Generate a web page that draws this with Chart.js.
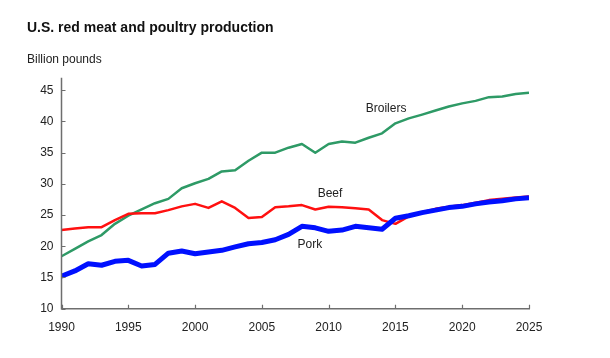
<!DOCTYPE html>
<html>
<head>
<meta charset="utf-8">
<script src="https://cdn.jsdelivr.net/npm/chart.js@4/dist/chart.umd.min.js"></script>
<style>
  html, body { margin: 0; padding: 0; background: #fff; }
  #wrap { width: 610px; height: 358px; position: relative; }
</style>
</head>
<body>
<div id="wrap"><canvas id="c" width="610" height="358"></canvas></div>
<script>
const years = [1990,1991,1992,1993,1994,1995,1996,1997,1998,1999,2000,2001,2002,2003,2004,2005,2006,2007,2008,2009,2010,2011,2012,2013,2014,2015,2016,2017,2018,2019,2020,2021,2022,2023,2024,2025];
const broilers = [18.4,19.6,20.8,21.8,23.6,24.9,25.9,26.9,27.6,29.3,30.1,30.8,32.0,32.2,33.7,35.0,35.0,35.8,36.4,35.0,36.4,36.8,36.6,37.4,38.1,39.7,40.5,41.1,41.75,42.4,42.9,43.3,43.9,44.0,44.4,44.6];
const beef = [22.6,22.85,23.06,23.06,24.2,25.2,25.3,25.3,25.8,26.4,26.8,26.15,27.2,26.15,24.55,24.7,26.25,26.4,26.6,25.9,26.35,26.25,26.1,25.9,24.2,23.6,24.8,25.45,26.0,26.35,26.6,27.0,27.4,27.6,27.8,28.0];
const pork = [15.2,16.05,17.2,16.96,17.6,17.75,16.85,17.1,18.9,19.24,18.8,19.1,19.35,19.9,20.4,20.6,21.05,21.9,23.2,22.96,22.4,22.6,23.2,22.96,22.74,24.5,24.9,25.4,25.8,26.2,26.4,26.8,27.1,27.3,27.6,27.8];
const yTicks = [10,15,20,25,30,35,40,45];
const xTicks = [1990,1995,2000,2005,2010,2015,2020,2025];
const seriesNames = ['Pork','Beef','Broilers'];
const titleText = 'U.S. red meat and poultry production';
const unitText = 'Billion pounds';

const FONT = '"Liberation Sans", Arial, Helvetica, sans-serif';
Chart.defaults.font.family = FONT;

const toPts = arr => arr.map((v, i) => ({x: years[i], y: v}));

// in-chart series labels (anchored in data coordinates)
const seriesLabels = [
  {text: 'Broilers', x: 2014.3, y: 42.0},
  {text: 'Beef', x: 2010.1, y: 28.4},
  {text: 'Pork', x: 2008.6, y: 20.3}
];

const innerTicks = {
  id: 'innerTicks',
  afterDraw(chart) {
    const {ctx, chartArea: a, scales: {x, y}} = chart;
    ctx.save();
    ctx.strokeStyle = '#6e6e6e';
    ctx.lineWidth = 1.5;
    ctx.beginPath();
    ctx.moveTo(a.left, a.top);
    ctx.lineTo(a.left, a.bottom);
    ctx.lineTo(a.right + 1, a.bottom);
    ctx.stroke();
    ctx.lineWidth = 1.2;
    ctx.beginPath();
    y.ticks.forEach(t => {
      const py = Math.round(y.getPixelForValue(t.value)) + 0.5;
      ctx.moveTo(a.left, py); ctx.lineTo(a.left + 4, py);
    });
    x.ticks.forEach(t => {
      const px = Math.round(x.getPixelForValue(t.value)) + 0.5;
      ctx.moveTo(px, a.bottom); ctx.lineTo(px, a.bottom - 4);
    });
    ctx.stroke();
    ctx.restore();
  },
  afterDatasetsDraw(chart) {
    const {ctx, scales: {x, y}} = chart;
    ctx.save();
    ctx.font = '12px ' + FONT;
    ctx.fillStyle = '#222';
    ctx.textAlign = 'center';
    ctx.textBaseline = 'middle';
    seriesLabels.forEach(l => {
      ctx.fillText(l.text, x.getPixelForValue(l.x), y.getPixelForValue(l.y));
    });
    ctx.restore();
  }
};

new Chart(document.getElementById('c'), {
  type: 'line',
  data: {
    datasets: [
      {label: seriesNames[0], data: toPts(pork), borderColor: '#0010ff', borderWidth: 5, order: 0},
      {label: seriesNames[1], data: toPts(beef), borderColor: '#ff1010', borderWidth: 2.5, order: 1},
      {label: seriesNames[2], data: toPts(broilers), borderColor: '#2e9a66', borderWidth: 2.5, order: 2}
    ]
  },
  options: {
    responsive: false,
    animation: false,
    devicePixelRatio: 1,
    layout: {padding: {left: 27, right: 81, top: 0, bottom: 0}},
    elements: {
      point: {radius: 0, hoverRadius: 0},
      line: {tension: 0, borderJoinStyle: 'round', borderCapStyle: 'butt'}
    },
    plugins: {
      legend: {display: false},
      tooltip: {enabled: false},
      title: {
        display: true, text: titleText, align: 'start', color: '#111',
        font: {size: 14, weight: 'bold', lineHeight: 1.2},
        padding: {top: 20, bottom: 0}
      },
      subtitle: {
        display: true, text: unitText, align: 'start', color: '#222',
        font: {size: 12, lineHeight: 1.2},
        padding: {top: 15.3, bottom: 11.3}
      }
    },
    scales: {
      x: {
        type: 'linear', min: 1990, max: 2025,
        afterFit(s) { s.height = 49.3; },
        afterBuildTicks(s) { s.ticks = xTicks.map(v => ({value: v})); },
        grid: {display: false, drawTicks: false},
        border: {display: false},
        ticks: {color: '#222', font: {size: 12}, padding: 12, maxRotation: 0, autoSkip: false, callback: v => String(v)}
      },
      y: {
        type: 'linear', min: 10, max: 47,
        afterFit(s) { s.width = 34.5; },
        afterBuildTicks(s) { s.ticks = yTicks.map(v => ({value: v})); },
        grid: {display: false, drawTicks: false},
        border: {display: false},
        ticks: {color: '#222', font: {size: 12}, padding: 8, callback: v => String(v)}
      }
    }
  },
  plugins: [innerTicks]
});
</script>
</body>
</html>
